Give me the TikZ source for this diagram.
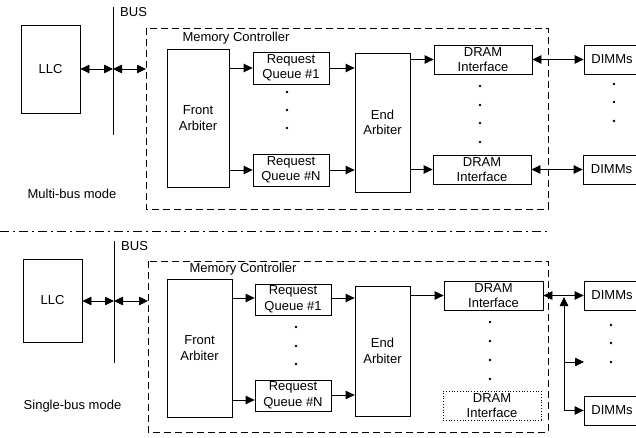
\documentclass[tikz,border=0pt]{standalone}
\usepackage{fontspec}
\setmainfont{Liberation Sans}
\usetikzlibrary{arrows.meta}
\begin{document}
\begin{tikzpicture}[x=1pt,y=-1pt,
  box/.style={draw, line width=0.8pt, inner sep=0pt, align=center, font=\fontsize{13}{15.5}\selectfont},
  dotbox/.style={box, dotted},
  lab/.style={inner sep=0pt, font=\fontsize{13}{15.5}\selectfont},
  arr/.style={-{Triangle[length=9pt,width=8.5pt]}, line width=0.8pt},
  darr/.style={{Triangle[length=9pt,width=8.5pt]}-{Triangle[length=9pt,width=8.5pt]}, line width=0.8pt},
  mc/.style={draw, line width=0.8pt, dash pattern=on 7pt off 4pt},
  busline/.style={line width=0.8pt},
  dotn/.style={circle, fill, inner sep=0pt, minimum size=2.8pt}]
\useasboundingbox (0,0) rectangle (636,438);
\clip (0,0) rectangle (636,438);

% ================= TOP PANEL =================
\draw[mc] (146,28) rectangle (548,209);
\node[lab] (mct) at (236,38) {Memory Controller};
\node[box, minimum width=59, minimum height=88] (llc) at (50.5,69) {LLC};
\coordinate (busT) at (113,7);
\coordinate (busB) at (113,135);
\draw[busline] (busT) -- (busB);
\node[lab, anchor=west] (buslab) at (120,12) {BUS};
\coordinate (busM) at (113,69);
\coordinate (mcL) at (146,69);
\draw[darr] (llc.east |- busM) -- (busM);
\draw[darr] (busM) -- (mcL);

\node[box, minimum width=62, minimum height=138] (fa) at (198,118) {Front\\Arbiter};
\node[box, minimum width=76, minimum height=32] (rq1) at (291,68) {Request\\Queue \#1};
\node[box, minimum width=76, minimum height=32] (rqn) at (291,170) {Request\\Queue \#N};
\node[dotn] (d1) at (287,92) {};
\node[dotn] (d2) at (287,110) {};
\node[dotn] (d3) at (287,128) {};
\node[box, minimum width=55, minimum height=139] (ea) at (382.5,122.5) {End\\Arbiter};
\node[box, minimum width=98, minimum height=29] (di1) at (483,59.5) {DRAM\\Interface};
\node[box, minimum width=98, minimum height=29] (din) at (482,169.5) {DRAM\\Interface};
\node[dotn] (e1) at (480,86) {};
\node[dotn] (e2) at (480,105) {};
\node[dotn] (e3) at (480,123) {};
\node[dotn] (e4) at (480,142) {};
\node[box, minimum width=56, minimum height=29] (dm1) at (612,59.5) {DIMMs};
\node[box, minimum width=57, minimum height=29] (dmn) at (611.5,169.5) {DIMMs};
\node[dotn] (f1) at (614,84) {};
\node[dotn] (f2) at (614,102) {};
\node[dotn] (f3) at (614,121) {};

\draw[arr] (fa.east |- rq1.west) -- (rq1.west);
\draw[arr] (fa.east |- rqn.west) -- (rqn.west);
\draw[arr] (rq1.east) -- (rq1.east -| ea.west);
\draw[arr] (rqn.east) -- (rqn.east -| ea.west);
\draw[arr] (ea.east |- di1.west) -- (di1.west);
\draw[arr] (ea.east |- din.west) -- (din.west);
\draw[darr] (di1.east) -- (di1.east -| dm1.west);
\draw[darr] (din.east) -- (din.east -| dmn.west);

\node[lab] (multi) at (72,194) {Multi-bus mode};

% separator
\coordinate (sepL) at (0,231);
\coordinate (sepR) at (548,231);
\draw[line width=0.8pt, dash pattern=on 9pt off 4pt on 2pt off 4pt] (sepL) -- (sepR);

% ================= BOTTOM PANEL =================
\draw[mc] (148,261) rectangle (548,432);
\node[lab] (mcb) at (243,269) {Memory Controller};
\node[box, minimum width=59, minimum height=83] (llc2) at (52.5,300.5) {LLC};
\coordinate (bus2T) at (114,241);
\coordinate (bus2B) at (114,363);
\draw[busline] (bus2T) -- (bus2B);
\node[lab, anchor=west] (buslab2) at (121,246) {BUS};
\coordinate (bus2M) at (114,301);
\coordinate (mc2L) at (148,301);
\draw[darr] (llc2.east |- bus2M) -- (bus2M);
\draw[darr] (bus2M) -- (mc2L);

\node[box, minimum width=65, minimum height=138] (fa2) at (199.5,348) {Front\\Arbiter};
\node[box, minimum width=76, minimum height=31] (rq21) at (293,299.5) {Request\\Queue \#1};
\node[box, minimum width=76, minimum height=31] (rq2n) at (293,395.5) {Request\\Queue \#N};
\node[dotn] (g1) at (296,327) {};
\node[dotn] (g2) at (296,346) {};
\node[dotn] (g3) at (296,364) {};
\node[box, minimum width=55, minimum height=130] (ea2) at (382.5,351) {End\\Arbiter};
\node[box, minimum width=99, minimum height=29] (di21) at (493.5,295.5) {DRAM\\Interface};
\node[dotbox, minimum width=98, minimum height=29] (di2n) at (492,405.5) {DRAM\\Interface};
\node[dotn] (h1) at (490,322) {};
\node[dotn] (h2) at (490,341) {};
\node[dotn] (h3) at (490,360) {};
\node[dotn] (h4) at (490,379) {};
\node[box, minimum width=56, minimum height=29] (dm21) at (612,295.5) {DIMMs};
\node[box, minimum width=56, minimum height=29] (dm2n) at (612,410.5) {DIMMs};
\node[dotn] (k1) at (611,325) {};
\node[dotn] (k2) at (611,343) {};
\node[dotn] (k3) at (611,362) {};

\coordinate (fa2a) at (232,298);
\coordinate (fa2b) at (232,400);
\draw[arr] (fa2a) -- (fa2a -| rq21.west);
\draw[arr] (fa2b) -- (fa2b -| rq2n.west);
\draw[arr] (rq21.east |- fa2a) -- (fa2a -| ea2.west);
\coordinate (rqnb) at (331,395);
\draw[arr] (rqnb) -- (rqnb -| ea2.west);
\draw[arr] (ea2.east |- di21.west) -- (di21.west);
\draw[darr] (di21.east) -- (di21.east -| dm21.west);
\coordinate (vTop) at (564,297);
\coordinate (vMid) at (564,362);
\coordinate (vBot) at (564,410.5);
\coordinate (midTip) at (584,362);
\draw[arr] (vBot) -- (vTop);
\draw[arr] (vMid) -- (midTip);
\draw[arr] (vBot) -- (dm2n.west);

\node[lab] (single) at (72.5,406) {Single-bus mode};
\end{tikzpicture}
\end{document}
